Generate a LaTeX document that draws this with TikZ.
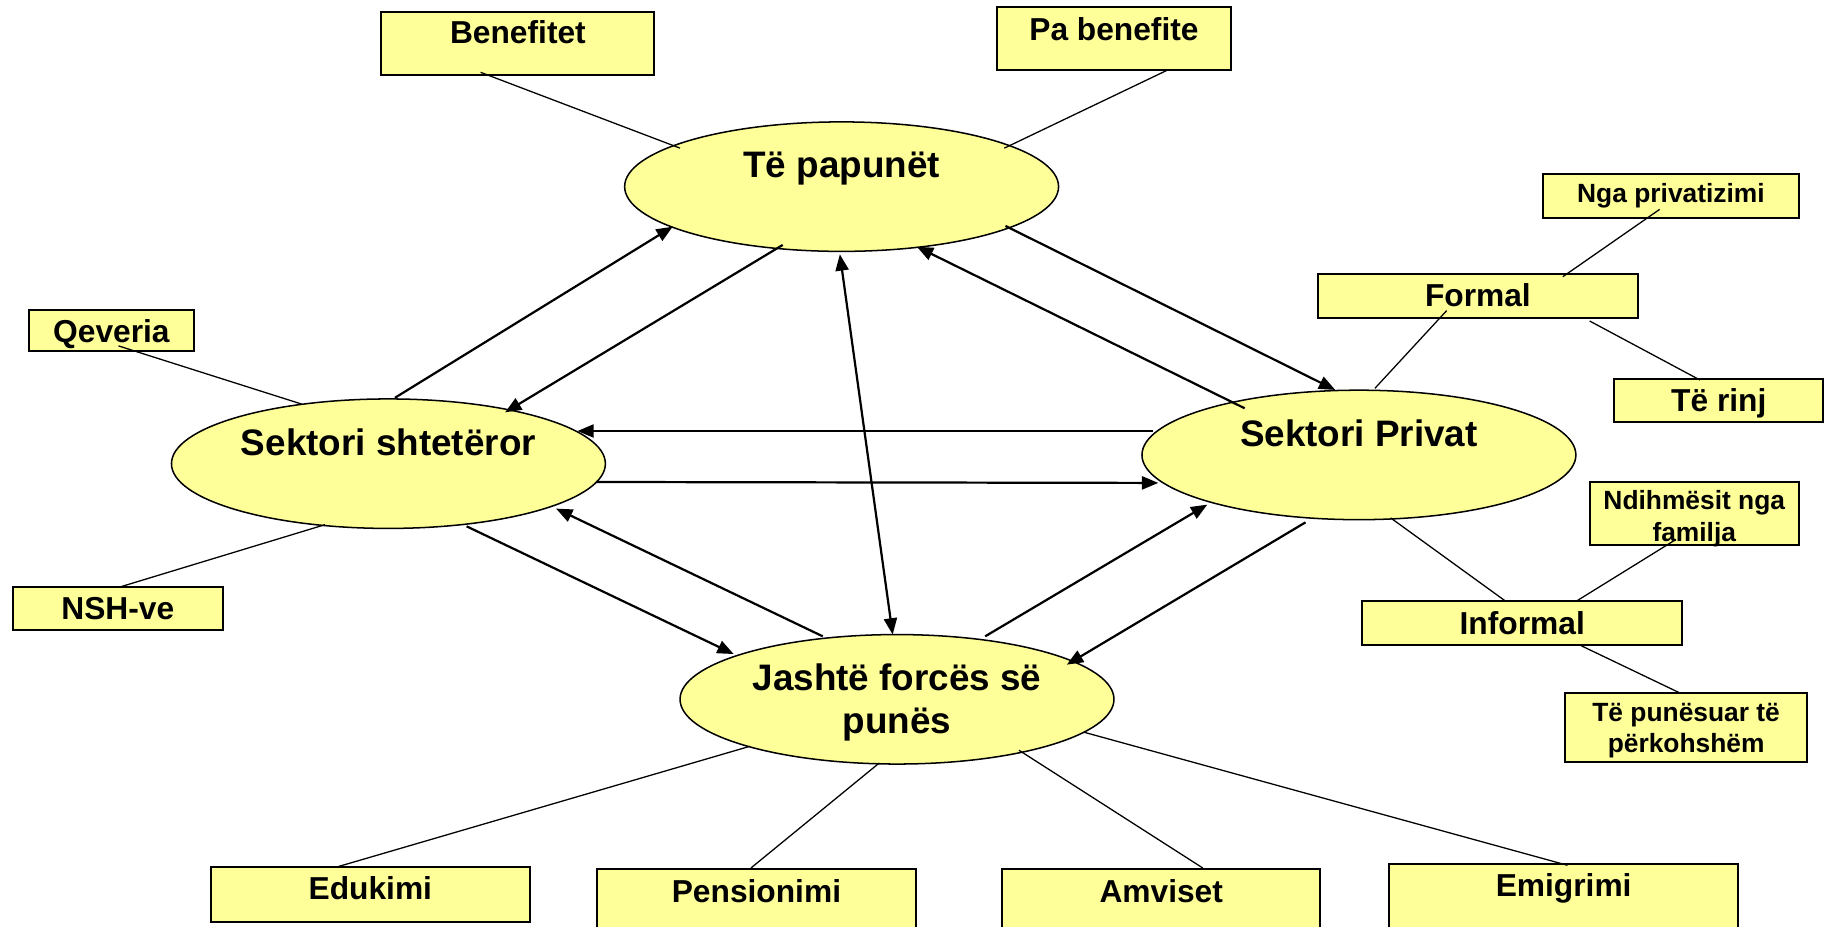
\documentclass[tikz,border=0pt]{standalone}
\usepackage{fontspec}
\setmainfont{Liberation Sans}
\usetikzlibrary{arrows.meta,shapes.geometric,calc}
\definecolor{boxyellow}{HTML}{FFFF99}
\newcommand\txt[2]{\raisebox{#1}[0pt][0pt]{#2}}
\newcommand\twol[2]{\begin{tabular}[t]{@{}c@{}}#1\\#2\end{tabular}}
\begin{document}
\begin{tikzpicture}[x=0.5pt,y=-0.5pt,
  box/.style={draw=black, line width=0.85pt, fill=boxyellow, rectangle, inner sep=0pt,
    font=\fontsize{13.6pt}{16pt}\selectfont\bfseries},
  smallbox/.style={box, font=\fontsize{11.3pt}{13.4pt}\selectfont\bfseries},
  oval/.style={draw=black, line width=0.65pt, fill=boxyellow, ellipse, inner sep=0pt,
    minimum width=186pt, minimum height=55.5pt,
    font=\fontsize{15.8pt}{18.6pt}\selectfont\bfseries},
  link/.style={line width=0.55pt},
  flow/.style={line width=0.95pt, -{Triangle[length=7pt,width=5.6pt]}},
  bothflow/.style={line width=0.95pt, {Triangle[length=7pt,width=5.6pt]}-{Triangle[length=7pt,width=5.6pt]}},
]
\path[use as bounding box, fill=white] (0,0) rectangle (1568,794);

% ellipses
\node[oval] (pap) at (721.5,160) {\txt{3.8pt}{Të papunët}};
\node[oval] (sht) at (333,397.5) {\txt{3.7pt}{Sektori shtetëror}};
\node[oval] (prv) at (1165,390) {\txt{3.7pt}{Sektori Privat}};
\node[oval] (jas) at (769,599.5) {\txt{3.8pt}{\twol{Jashtë forcës së}{punës}}};

% boxes
\node[box, minimum width=117pt, minimum height=27pt] (ben) at (444,37) {\txt{-0.3pt}{Benefitet}};
\node[box, minimum width=100pt, minimum height=27pt] (pab) at (955,33) {\txt{-0.8pt}{Pa benefite}};
\node[smallbox, minimum width=109.5pt, minimum height=19pt] (nga) at (1432.5,168) {\txt{-2.9pt}{Nga privatizimi}};
\node[box, minimum width=137pt, minimum height=19pt] (frm) at (1267,254) {\txt{-4.3pt}{Formal}};
\node[box, minimum width=89.5pt, minimum height=18.5pt] (rin) at (1473.5,343.5) {\txt{-4.5pt}{Të rinj}};
\node[box, minimum width=70.5pt, minimum height=17.5pt] (qev) at (95.5,283.5) {\txt{-5pt}{Qeveria}};
\node[box, minimum width=90pt, minimum height=18.5pt] (nsh) at (101,521.5) {\txt{-5pt}{NSH-ve}};
\node[smallbox, minimum width=89.5pt, minimum height=27pt] (ndi) at (1452.5,440) {\txt{1.5pt}{\twol{Ndihmësit nga}{familja}}};
\node[box, minimum width=137pt, minimum height=19pt] (inf) at (1305,534) {\txt{-4.8pt}{Informal}};
\node[smallbox, minimum width=103.5pt, minimum height=29.5pt] (tep) at (1445.5,623.5) {\txt{2.4pt}{\twol{Të punësuar të}{përkohshëm}}};
\node[box, minimum width=136.5pt, minimum height=23.5pt] (edu) at (317.5,766.5) {\txt{-2.5pt}{Edukimi}};
\node[box, minimum width=136.5pt, minimum height=27pt] (pen) at (648.5,772) {\txt{-0.8pt}{Pensionimi}};
\node[box, minimum width=136.5pt, minimum height=27pt] (amv) at (995.5,772) {\txt{-0.8pt}{Amviset}};
\node[box, minimum width=149.5pt, minimum height=29pt] (emi) at (1340.5,770) {\txt{0.7pt}{Emigrimi}};

% plain links
\draw[link] ($(ben)+(-32,25)$) -- ($(pap)+(-138.5,-33)$);
\draw[link] ($(pab)+(45,27.5)$) -- ($(pap)+(139.5,-33)$);
\draw[link] ($(qev)+(6,13)$) -- ($(sht)+(-74.4,-51.1)$);
\draw[link] ($(nsh)+(2.5,-18.5)$) -- ($(sht)+(-54.4,52.3)$);
\draw[link] ($(nga)+(-9.7,11.5)$) -- ($(frm)+(72.8,-16.8)$);
\draw[link] ($(frm)+(-26.8,12.3)$) -- ($(prv)+(13.7,-57.1)$);
\draw[link] ($(frm)+(95.8,21.2)$) -- ($(rin)+(-16.1,-17.7)$);
\draw[link] ($(prv)+(27.2,54)$) -- ($(inf)+(-14.8,-19)$);
\draw[link] ($(inf)+(47,-19)$) -- ($(ndi)+(-16.1,22.7)$);
\draw[link] ($(inf)+(50.4,19.5)$) -- ($(tep)+(-5.5,-29.5)$);
\draw[link] ($(jas)+(-126.2,40.3)$) -- ($(edu)+(-28.9,-23.2)$);
\draw[link] ($(jas)+(-15.2,54.6)$) -- ($(pen)+(-4.7,-27.9)$);
\draw[link] ($(jas)+(104.6,43.7)$) -- ($(amv)+(35.6,-27.9)$);
\draw[link] ($(jas)+(160.6,28.3)$) -- ($(emi)+(3.3,-28.2)$);

% flows
\draw[flow] ($(sht)+(5.6,-56.5)$) -- ($(pap)+(-144.8,34.3)$);
\draw[flow] ($(pap)+(-50.5,50)$) -- ($(sht)+(100,-44)$);
\draw[flow] ($(pap)+(140.5,33.7)$) -- ($(prv)+(-20.3,-55.7)$);
\draw[flow] ($(prv)+(-98,-40)$) -- ($(pap)+(64.5,51.5)$);
\draw[flow] ($(prv)+(-176.5,-20.5)$) -- ($(sht)+(162,-28)$);
\draw[flow] ($(sht)+(178,15.7)$) -- ($(prv)+(-172,24)$);
\draw[bothflow] ($(pap)+(-1.5,58)$) -- ($(jas)+(-3.7,-55.5)$);
\draw[flow] ($(sht)+(67,53.7)$) -- ($(jas)+(-140,-38.8)$);
\draw[flow] ($(jas)+(-63.7,-54)$) -- ($(sht)+(143.7,38.5)$);
\draw[flow] ($(jas)+(75.6,-54)$) -- ($(prv)+(-130,42.6)$);
\draw[flow] ($(prv)+(-45.8,57.8)$) -- ($(jas)+(145.6,-29.7)$);
\end{tikzpicture}
\end{document}
